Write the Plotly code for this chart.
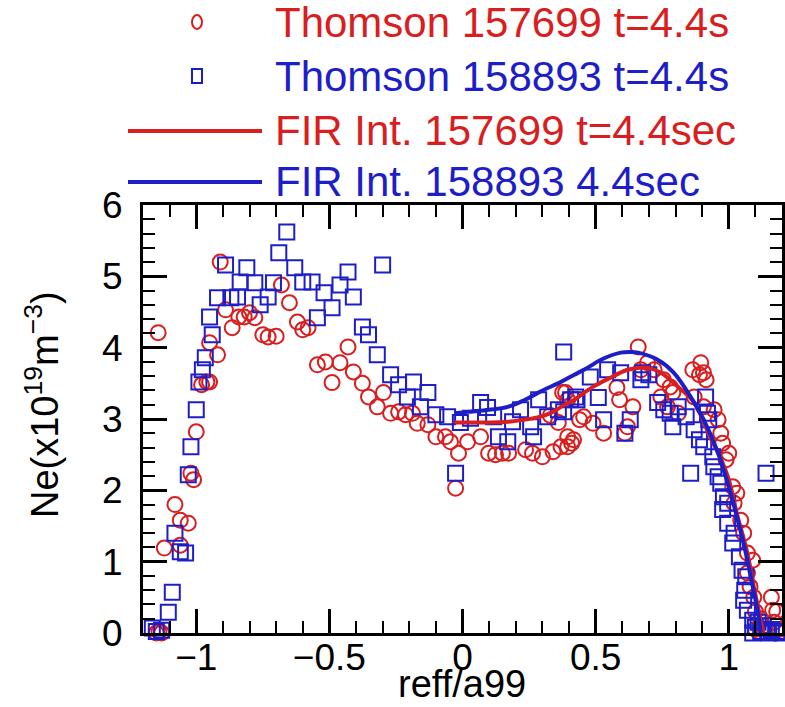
import plotly.graph_objects as go

# ---------------- data ----------------
ts1_r = [-1.143, -1.12, -1.15, -1.13, -1.14,
         -1.0, -1.02, -1.01, -1.08, -1.06, -1.03, -1.06,
         -0.91, -0.95, -0.92, -0.96, -0.95, -0.98, -0.89, -0.865, -0.84, -0.82, -0.80, -0.78,
         -0.75, -0.73, -0.70, -0.68, -0.65, -0.62, -0.60, -0.58, -0.545, -0.515, -0.49, -0.46,
         -0.43, -0.41,
         -0.376, -0.353, -0.297, -0.32, -0.27, -0.24, -0.214, -0.188, -0.17, -0.13, -0.10,
         -0.064, -0.045, -0.015, -0.026, 0.019, 0.068, 0.098, 0.124, 0.15, 0.173, 0.237, 0.263,
         0.30, 0.34, 0.395, 0.417, 0.376, 0.395, 0.33, 0.36,
         0.66, 0.387, 0.44, 0.455, 0.395, 0.41, 0.37, 0.49, 0.53, 0.58, 0.59, 0.61, 0.62, 0.64,
         0.67, 0.695, 0.72, 0.755, 0.78, 0.79, 0.745, 0.77, 0.81, 0.865, 0.895, 0.905, 0.915,
         0.89, 0.87, 0.905, 0.945, 0.96, 0.97, 0.977, 1.0, 0.99, 1.015, 1.03, 1.02, 1.045,
         1.056, 1.07, 1.09, 1.07, 1.08, 1.094, 1.16, 1.165,
         1.1, 1.13, 1.15, 1.17, 1.19, 1.12, 1.18, 1.1]
ts1_ne = [4.21, 1.19, 0.0, 0.0, 0.02,
          2.82, 2.24, 2.15, 1.8, 1.58, 1.54, 1.23,
          5.2, 4.07, 3.9, 3.52, 3.52, 3.48, 4.53, 4.28, 4.43, 4.43, 4.49, 4.42,
          4.18, 4.15, 4.16, 4.88, 4.63, 4.36, 4.25, 4.28, 3.76, 3.80, 3.51, 3.79,
          4.01, 3.66,
          3.5, 3.31, 3.37, 3.17, 3.08, 3.10, 3.06, 3.08, 2.94, 2.92, 2.75,
          2.75, 2.68, 2.52, 2.03, 2.68, 2.75, 2.52, 2.5, 2.52, 2.52, 2.57, 2.52,
          2.47, 2.54, 2.61, 2.71, 3.37, 3.27, 3.05, 2.95,
          4.01, 3.37, 2.99, 3.03, 2.75, 2.66, 2.61, 2.94, 2.80, 3.44, 3.27, 2.80, 2.89, 3.17,
          3.69, 3.79, 3.69, 3.55, 3.45, 3.37, 3.31, 3.17, 3.08, 3.69, 3.79, 3.65, 3.55,
          3.62, 3.31, 3.17, 3.13, 2.99, 2.80, 2.66, 2.52, 2.43, 2.05, 1.96, 1.82, 1.58,
          1.40, 1.12, 1.02, 0.84, 0.65, 0.5, 0.5, 0.32,
          0.05, 0.1, 0.02, 0.15, 0.05, 0.2, 0.3, 0.3]

ts2_r = [-1.02, -1.03, -1.08, -1.06, -1.04, -1.09, -1.105, -1.165, -1.13, -1.15,
         -0.66, -0.69, -0.89, -0.81, -0.78, -0.835, -0.92, -0.87, -0.845, -0.95, -0.94,
         -0.966, -0.977, -0.99, -1.0, -0.76, -0.73, -0.71, -0.63, -0.60, -0.565, -0.52,
         -0.49, -0.46, -0.43, -0.41, -0.545, -0.376, -0.353, -0.30,
         -0.32, -0.27, -0.24, -0.184, -0.13, -0.207, -0.158, -0.10, -0.056, -0.008, 0.03,
         -0.026, 0.068, 0.094, 0.117, 0.135, 0.17, 0.188, 0.218, 0.256, 0.267, 0.286, 0.32,
         0.36, 0.406, 0.425, 0.38,
         0.43, 0.38, 0.48, 0.51, 0.545, 0.594, 0.53, 0.61, 0.63, 0.677, 0.70, 0.67, 0.733,
         0.756, 0.78, 0.81, 0.79, 0.84, 0.857, 0.913, 0.92, 0.925, 0.87, 0.89, 0.906, 0.94,
         0.944, 0.96, 0.97, 0.98, 0.996, 0.977, 0.996, 1.02, 1.015, 1.04, 1.05, 1.064,
         1.056, 1.07, 1.09, 1.14,
         1.09, 1.1, 1.12, 1.13, 1.15, 1.16, 1.18, 1.2, 1.11, 1.06]
ts2_ne = [2.61, 2.22, 1.40, 1.14, 1.12, 0.57, 0.29, 0.07, 0.04, 0.02,
          5.62, 5.33, 5.16, 5.12, 4.91, 4.92, 4.70, 4.70, 4.71, 4.43, 4.18,
          3.86, 3.69, 3.52, 3.13, 4.6, 4.71, 4.91, 5.12, 4.92, 4.92, 4.77,
          4.56, 4.88, 5.06, 4.71, 4.42, 4.29, 4.18, 5.16,
          3.90, 3.62, 3.48, 3.52, 3.37, 3.31, 3.17, 3.06, 3.03, 2.95, 3.01,
          2.24, 3.23, 3.16, 3.03, 2.75, 2.68, 2.96, 3.13, 2.89, 2.75, 3.27, 3.03,
          3.13, 3.27, 3.31, 3.94,
          3.27, 3.10, 3.59, 3.30, 3.69, 3.65, 2.99, 2.80, 2.99, 3.65, 3.62, 3.55, 3.23,
          3.13, 3.08, 3.17, 2.89, 3.03, 2.24, 3.31, 3.08, 2.99, 2.85, 2.71, 2.61, 2.47,
          2.33, 2.19, 2.10, 1.91, 1.82, 1.73, 1.54, 1.40, 1.26, 1.07, 0.88, 0.79,
          0.46, 0.32, 0.18, 2.24,
          0.0, 0.08, 0.02, 0.1, 0.0, 0.05, 0.02, 0.0, 0.15, 0.6]

fir1_r = [-0.03, 0.02, 0.1, 0.17, 0.23, 0.29, 0.34, 0.37, 0.42, 0.45, 0.49, 0.55, 0.62,
          0.67, 0.695, 0.744, 0.81, 0.87, 0.93, 0.97, 1.0, 1.03, 1.07, 1.094, 1.12, 1.13]
fir1_ne = [2.95, 2.95, 2.95, 2.96, 2.99, 3.03, 3.1, 3.17, 3.27, 3.35, 3.45, 3.57, 3.69,
           3.72, 3.72, 3.65, 3.45, 3.23, 2.75, 2.45, 2.15, 1.68, 1.12, 0.65, 0.18, 0.0]

fir2_r = [-0.03, 0.02, 0.1, 0.17, 0.23, 0.29, 0.37, 0.42, 0.47, 0.52, 0.594, 0.63, 0.66,
          0.733, 0.793, 0.857, 0.906, 0.96, 1.0, 1.034, 1.064, 1.09, 1.11, 1.12]
fir2_ne = [3.08, 3.10, 3.13, 3.17, 3.26, 3.38, 3.52, 3.62, 3.72, 3.83, 3.93, 3.94, 3.93,
           3.83, 3.65, 3.31, 2.99, 2.52, 2.05, 1.58, 1.12, 0.65, 0.28, 0.0]

legend_labels = ["Thomson 157699 t=4.4s", "Thomson 158893 t=4.4s",
                 "FIR Int. 157699 t=4.4sec", "FIR Int. 158893 4.4sec"]

x_ticks = [-1, -0.5, 0, 0.5, 1]
y_ticks = [0, 1, 2, 3, 4, 5, 6]

# ---------------- style ----------------
RED = "#d81e1e"
BLUE = "#1e1ec8"
FONT = "Liberation Sans, Arial, sans-serif"

W, H = 785, 707
L, R, T, B = 143, 3, 205, 74
PW, PH = W - L - R, H - T - B


def px_x(px):
    return (px - L) / PW


def px_y(py):
    return (H - B - py) / PH


fig = go.Figure()
fig.add_trace(go.Scatter(x=ts1_r, y=ts1_ne, mode="markers", cliponaxis=False,
                         marker=dict(symbol="circle-open", size=15, color=RED,
                                     line=dict(width=2, color=RED)),
                         name=legend_labels[0], showlegend=False))
fig.add_trace(go.Scatter(x=ts2_r, y=ts2_ne, mode="markers", cliponaxis=False,
                         marker=dict(symbol="square-open", size=15, color=BLUE,
                                     line=dict(width=2, color=BLUE)),
                         name=legend_labels[1], showlegend=False))
fig.add_trace(go.Scatter(x=fir1_r, y=fir1_ne, mode="lines", cliponaxis=False,
                         line=dict(color=RED, width=4, shape="spline"),
                         name=legend_labels[2], showlegend=False))
fig.add_trace(go.Scatter(x=fir2_r, y=fir2_ne, mode="lines", cliponaxis=False,
                         line=dict(color=BLUE, width=4, shape="spline"),
                         name=legend_labels[3], showlegend=False))

axis_common = dict(showline=True, linewidth=3, linecolor="black", mirror="allticks",
                   ticks="inside", ticklen=24, tickwidth=3, tickcolor="black",
                   showgrid=False, zeroline=False, automargin=False,
                   tickfont=dict(family=FONT, size=37, color="black"))

fig.update_xaxes(range=[-1.2, 1.2], tickvals=x_ticks,
                 minor=dict(dtick=0.1, tick0=0, ticks="inside", ticklen=12, tickwidth=2,
                            tickcolor="black"),
                 ticklabelstandoff=-10, **axis_common)
fig.update_yaxes(range=[0, 6], tickvals=y_ticks,
                 minor=dict(dtick=0.2, tick0=0, ticks="inside", ticklen=12, tickwidth=2,
                            tickcolor="black"),
                 ticklabelstandoff=10, **axis_common)

shapes = []
annotations = []
# legend rows (pixel positions of row centres)
rows = [22, 76, 131, 182]
colors = [RED, BLUE, RED, BLUE]
mx = px_x(197)
shapes.append(dict(type="circle", xref="paper", yref="paper", xsizemode="pixel",
                   ysizemode="pixel", xanchor=mx, yanchor=px_y(rows[0]),
                   x0=-5, x1=5, y0=-7, y1=7, line=dict(color=RED, width=2)))
shapes.append(dict(type="rect", xref="paper", yref="paper", xsizemode="pixel",
                   ysizemode="pixel", xanchor=mx, yanchor=px_y(rows[1]),
                   x0=-5, x1=5, y0=-7, y1=7, line=dict(color=BLUE, width=2)))
for r, c in zip(rows[2:], colors[2:]):
    shapes.append(dict(type="line", xref="paper", yref="paper",
                       x0=px_x(128), x1=px_x(262), y0=px_y(r), y1=px_y(r),
                       line=dict(color=c, width=4)))
for lab, r, c in zip(legend_labels, rows, colors):
    annotations.append(dict(text=lab, xref="paper", yref="paper", x=px_x(273),
                            y=px_y(r), xanchor="left", yanchor="middle", showarrow=False,
                            font=dict(family=FONT, size=42, color=c)))

annotations.append(dict(text="reff/a99", xref="paper", yref="paper", x=px_x(462),
                        y=px_y(684), xanchor="center", yanchor="middle", showarrow=False,
                        font=dict(family=FONT, size=38, color="black")))
annotations.append(dict(text="Ne(x10<sup>19</sup>m<sup>\u22123</sup>)", xref="paper",
                        yref="paper", x=px_x(42), y=px_y(405), xanchor="center",
                        yanchor="middle", textangle=-90, showarrow=False,
                        font=dict(family=FONT, size=38, color="black")))

fig.update_layout(width=W, height=H, margin=dict(l=L, r=R, t=T, b=B),
                  paper_bgcolor="white", plot_bgcolor="white",
                  shapes=shapes, annotations=annotations, showlegend=False)

fig.write_html("out.html", config={"displayModeBar": False},
               post_script="document.body.style.margin='0';document.body.style.overflow='hidden';")
